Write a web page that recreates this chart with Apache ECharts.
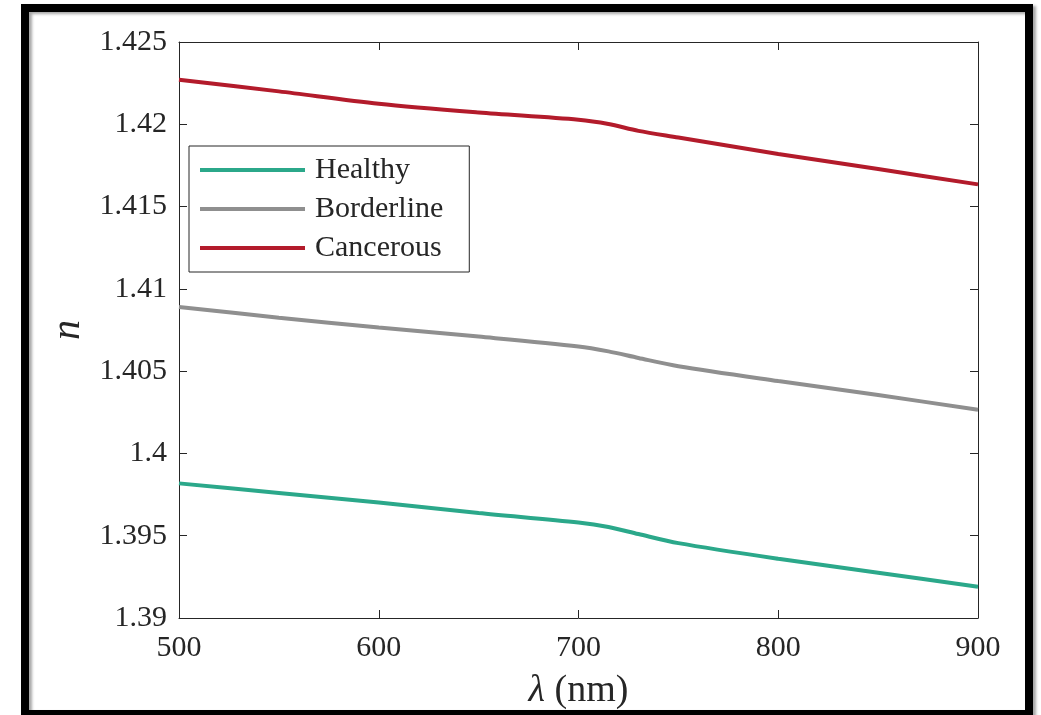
<!DOCTYPE html>
<html lang="en">

<head>
    <meta charset="UTF-8">
    <title>n vs wavelength</title>
    <style>
        * {
            margin: 0;
            padding: 0;
        }

        body {
            background: #fff;
        }

        #myEcharts {
            width: 1041px;
            height: 715px;
        }
    </style>
</head>

<body>
    <div id="myEcharts"></div>
    <script src="https://cdn.jsdelivr.net/npm/echarts@6/dist/echarts.min.js"></script>
    <script>
        // wavelength (nm)
        var wavelengths = [500, 550, 600, 650, 700, 715, 730, 750, 800, 850, 900];
        // refractive index per tissue type
        var healthy = [1.39818, 1.3976, 1.39702, 1.39638, 1.3958, 1.39553, 1.3951, 1.39455, 1.3936, 1.39275, 1.3919];
        var borderline = [1.4089, 1.40825, 1.40765, 1.4071, 1.4065, 1.4062, 1.4058, 1.4053, 1.4044, 1.40355, 1.40265];
        var cancerous = [1.4227, 1.4220, 1.42125, 1.42072, 1.42028, 1.42002, 1.4196, 1.4192, 1.4182, 1.41728, 1.41635];
        var seriesNames = ['Healthy', 'Borderline', 'Cancerous'];

        var font = '"Liberation Serif", "DejaVu Serif", serif';
        var ink = '#262626';

        function pairs(ys) {
            var res = [];
            for (var i = 0; i < wavelengths.length; i++) {
                res.push([wavelengths[i], ys[i]]);
            }
            return res;
        }

        function makeLine(name, ys, color) {
            return {
                name: name,
                type: 'line',
                data: pairs(ys),
                smooth: 0.3,
                showSymbol: false,
                color: color,
                lineStyle: { color: color, width: 4 },
                itemStyle: { color: color }
            };
        }

        var axisLine = { show: true, onZero: false, lineStyle: { color: ink, width: 1 } };
        var axisTick = { show: true, inside: true, length: 8, lineStyle: { color: ink } };

        var myEcharts = echarts.init(document.getElementById('myEcharts'));
        var option = {
            animation: false,
            backgroundColor: '#fff',
            grid: { left: 179, top: 42, right: 63, bottom: 94 },
            legend: {
                orient: 'vertical',
                left: 189,
                top: 146,
                data: seriesNames,
                icon: 'rect',
                itemWidth: 105,
                itemHeight: 4,
                itemGap: 9,
                padding: [9, 26, 9, 11],
                borderColor: ink,
                borderWidth: 1,
                backgroundColor: '#fff',
                textStyle: {
                    fontFamily: font,
                    fontSize: 30,
                    lineHeight: 30,
                    color: ink,
                    padding: [0, 0, 0, 5]
                }
            },
            xAxis: [{
                type: 'value',
                min: 500,
                max: 900,
                interval: 100,
                name: '{i|λ} (nm)',
                nameLocation: 'middle',
                nameGap: 54,
                nameTextStyle: {
                    fontFamily: font,
                    fontSize: 38,
                    color: ink,
                    rich: { i: { fontFamily: font, fontSize: 38, fontStyle: 'italic', color: ink } }
                },
                axisLine: axisLine,
                axisTick: axisTick,
                splitLine: { show: false },
                axisLabel: { fontFamily: font, fontSize: 30, color: ink, margin: 15 }
            }, {
                type: 'value',
                position: 'top',
                min: 500,
                max: 900,
                interval: 100,
                axisLine: axisLine,
                axisTick: axisTick,
                splitLine: { show: false },
                axisLabel: { show: false }
            }],
            yAxis: [{
                type: 'value',
                min: 1.39,
                max: 1.425,
                interval: 0.005,
                name: 'n',
                nameLocation: 'middle',
                nameGap: 86,
                nameTextStyle: { fontFamily: font, fontSize: 40, fontStyle: 'italic', color: ink },
                axisLine: axisLine,
                axisTick: axisTick,
                splitLine: { show: false },
                axisLabel: { fontFamily: font, fontSize: 30, color: ink, margin: 12 }
            }, {
                type: 'value',
                position: 'right',
                min: 1.39,
                max: 1.425,
                interval: 0.005,
                axisLine: axisLine,
                axisTick: axisTick,
                splitLine: { show: false },
                axisLabel: { show: false }
            }],
            series: [
                makeLine(seriesNames[0], healthy, '#2BA88A'),
                makeLine(seriesNames[1], borderline, '#8F8F8F'),
                makeLine(seriesNames[2], cancerous, '#B31B2B')
            ],
            graphic: [{
                type: 'rect',
                z: 100,
                silent: true,
                shape: { x: 25, y: 8, width: 1004, height: 706 },
                style: {
                    fill: 'none',
                    stroke: '#000',
                    lineWidth: 8,
                    shadowColor: 'rgba(0,0,0,0.35)',
                    shadowBlur: 3,
                    shadowOffsetX: 3,
                    shadowOffsetY: 2
                }
            }]
        };
        myEcharts.setOption(option);
    </script>
</body>

</html>
